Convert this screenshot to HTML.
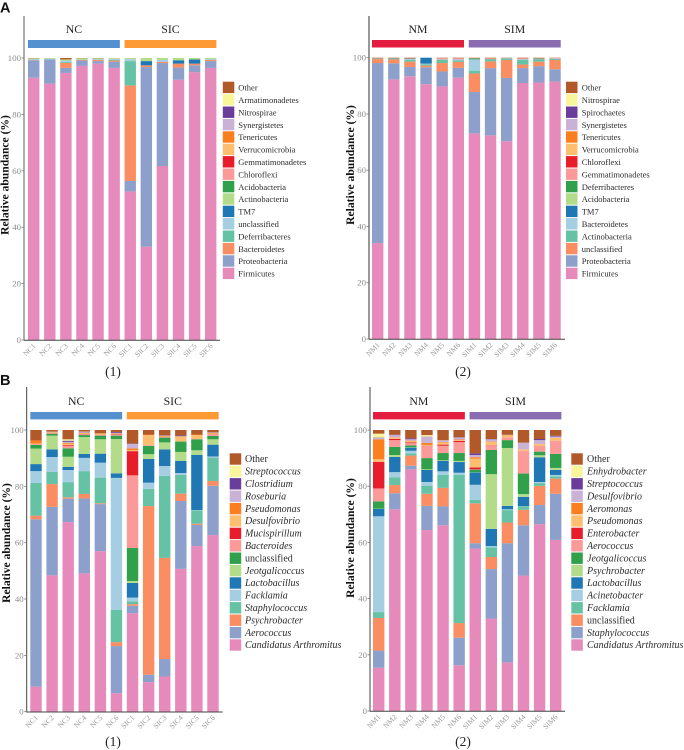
<!DOCTYPE html>
<html lang="en">
<head>
<meta charset="utf-8">
<title>Relative abundance stacked bars</title>
<style>
html,body{margin:0;padding:0;background:#fff;}
body{width:684px;height:750px;overflow:hidden;}
svg{display:block;font-family:"Liberation Serif",serif;}
</style>
</head>
<body>
<svg id="figure" width="684" height="750" viewBox="0 0 684 750" xmlns="http://www.w3.org/2000/svg">
  <text x="0" y="12.5" font-family="'Liberation Sans',sans-serif" font-weight="700" font-size="14.5" fill="#111">A</text>
  <text x="0" y="385" font-family="'Liberation Sans',sans-serif" font-weight="700" font-size="14.5" fill="#111">B</text>
</svg>
<script>
const yTicks = [0, 20, 40, 60, 80, 100];
const yTitle = 'Relative abundance (%)';
const palette = ['#E58ABB','#8DA0CB','#FA8D62','#66C2A5','#A6CEE3','#1F78B4','#B2DC8A','#30A14A','#FB9A99','#E71D2B','#FDBF6F','#FB7F1E','#CAB2D6','#6A3D9A','#F9F59B','#B15928'];

const a1Samples = ['NC1','NC2','NC3','NC4','NC5','NC6','SIC1','SIC2','SIC3','SIC4','SIC5','SIC6'];
const a1Groups = ['NC','SIC'];
const a1Taxa = ['Firmicutes','Proteobacteria','Bacteroidetes','Deferribacteres','unclassified','TM7','Actinobacteria','Acidobacteria','Chloroflexi','Gemmatimonadetes','Verrucomicrobia','Tenericutes','Synergistetes','Nitrospirae','Armatimonadetes','Other'];
const a1NC1 = [93,6.2,.1,.1,.2,0,.3,0,0,0,0,0,0,0,0,.1];
const a1NC2 = [90.9,8.6,0,0,.2,0,.3,0,0,0,0,0,0,0,0,0];
const a1NC3 = [94.7,1.8,1.8,.3,.5,0,.4,0,0,0,0,0,0,0,0,.5];
const a1NC4 = [97.2,1.9,.2,0,.1,0,.5,0,0,0,0,0,0,0,0,.1];
const a1NC5 = [98,.9,.4,0,.3,0,.3,0,0,0,0,0,0,0,0,.1];
const a1NC6 = [96.5,2.2,.4,.2,.4,0,.3,0,0,0,0,0,0,0,0,0];
const a1SIC1 = [52.7,3.7,33.9,8.6,.7,0,.4,0,0,0,0,0,0,0,0,0];
const a1SIC2 = [33.1,63.7,.6,0,0,1.5,1.1,0,0,0,0,0,0,0,0,0];
const a1SIC3 = [61.7,36.5,.4,0,.7,0,.7,0,0,0,0,0,0,0,0,0];
const a1SIC4 = [92.3,4.3,1.4,0,0,1.2,.8,0,0,0,0,0,0,0,0,0];
const a1SIC5 = [95,2.4,.6,0,0,1.5,.5,0,0,0,0,0,0,0,0,0];
const a1SIC6 = [96.5,2.4,.4,.1,.2,0,.4,0,0,0,0,0,0,0,0,0];

const a2Samples = ['NM1','NM2','NM3','NM4','NM5','NM6','SIM1','SIM2','SIM3','SIM4','SIM5','SIM6'];
const a2Groups = ['NM','SIM'];
const a2Taxa = ['Firmicutes','Proteobacteria','unclassified','Actinobacteria','Bacteroidetes','TM7','Acidobacteria','Deferribacteres','Gemmatimonadetes','Chloroflexi','Verrucomicrobia','Tenericutes','Synergistetes','Spirochaetes','Nitrospirae','Other'];
const a2NM1 = [34.1,64,1.4,.2,0,0,0,0,.1,0,0,0,0,0,0,.2];
const a2NM2 = [92.3,5.7,1.4,.4,0,0,0,0,0,0,0,0,0,0,0,.2];
const a2NM3 = [93.4,3.3,1.9,.6,.5,0,0,0,0,0,0,0,0,0,0,.3];
const a2NM4 = [90.6,6,.6,.5,.2,2.1,0,0,0,0,0,0,0,0,0,0];
const a2NM5 = [89.8,5.3,3,1.2,.1,0,0,0,.5,0,0,0,0,0,0,.1];
const a2NM6 = [92.9,3.5,2.1,.5,.4,0,0,0,.4,0,0,0,0,0,0,.2];
const a2SIM1 = [73.1,14.7,6.6,1,4,0,0,.4,.1,0,0,0,0,0,0,.1];
const a2SIM2 = [72.4,23.9,2.4,.8,0,0,0,0,.3,0,0,0,0,0,0,.2];
const a2SIM3 = [70.3,22.5,6.4,.6,0,0,0,0,.1,0,0,0,0,0,0,.1];
const a2SIM4 = [91,5.3,1.3,1.6,.3,0,0,0,.3,0,0,0,0,0,0,.2];
const a2SIM5 = [91.2,5.8,1.6,.6,.2,0,0,.3,.2,0,0,0,0,0,0,.1];
const a2SIM6 = [91.5,4.4,3.3,.4,.1,0,0,0,.2,0,0,0,0,0,0,.1];

const b1Samples = ['NC1','NC2','NC3','NC4','NC5','NC6','SIC1','SIC2','SIC3','SIC4','SIC5','SIC6'];
const b1Groups = ['NC','SIC'];
const b1Taxa = ['Candidatus Arthromitus','Aerococcus','Psychrobacter','Staphylococcus','Facklamia','Lactobacillus','Jeotgalicoccus','unclassified','Bacteroides','Mucispirillum','Desulfovibrio','Pseudomonas','Roseburia','Clostridium','Streptococcus','Other'];
const b1NC1 = [8.9,59.4,1.3,11.6,4.2,2.5,5.5,1.3,.3,0,.2,1.1,0,0,0,3.7];
const b1NC2 = [48.4,24.3,8.1,4.3,5.3,2.7,4.9,.7,.4,0,.3,0,0,.1,0,.5];
const b1NC3 = [67.3,8.3,.5,5.4,4.3,1.1,3.6,3,.8,.3,.5,.3,.4,.4,.5,3.3];
const b1NC4 = [49.1,26.6,1.6,8.1,4.7,1.4,6,.7,.3,.1,.2,.2,.2,.2,.1,.5];
const b1NC5 = [57,16.7,.3,9.1,5.3,3.2,5.1,1.3,.2,.1,.5,0,0,0,0,1.2];
const b1NC6 = [6.6,16.7,1.4,11.4,46.9,1.6,12.2,1.2,.3,.2,.1,.2,.2,.3,0,.7];
const b1SIC1 = [35,2.6,.6,1,1.3,5.2,.7,11.7,25.8,8.6,.4,.6,1.6,.1,0,4.8];
const b1SIC2 = [10.5,2.6,59.9,6.1,2.2,8.4,1.7,3,.2,0,3.6,.2,0,0,0,1.6];
const b1SIC3 = [12.5,6.2,35.9,29.1,3.5,5.9,2.5,1.7,.3,0,.1,.2,.1,.1,0,1.9];
const b1SIC4 = [50.7,24.1,2.6,6.7,.6,4.3,3.2,3.7,.1,0,1.8,0,0,.3,0,1.9];
const b1SIC5 = [58.8,7.5,.4,4.8,.1,19.6,1.6,3.9,.1,0,1.4,.2,0,0,0,1.6];
const b1SIC6 = [62.7,17.5,1.7,8.3,.4,4.2,1.9,1.2,.5,.1,.3,.2,.1,.1,0,.8];

const b2Samples = ['NM1','NM2','NM3','NM4','NM5','NM6','SIM1','SIM2','SIM3','SIM4','SIM5','SIM6'];
const b2Groups = ['NM','SIM'];
const b2Taxa = ['Candidatus Arthromitus','Staphylococcus','unclassified','Facklamia','Acinetobacter','Lactobacillus','Psychrobacter','Jeotgalicoccus','Aerococcus','Enterobacter','Pseudomonas','Aeromonas','Desulfovibrio','Streptococcus','Enhydrobacter','Other'];
const b2NM1 = [15.4,6.1,11.6,2.1,34.1,2.6,.1,2.6,4.6,9.5,.9,7.1,.5,.1,1.4,1.3];
const b2NM2 = [71.8,5.7,2.9,2.8,1.8,5.4,.7,2.9,2.4,.4,.5,.1,.8,.1,0,1.7];
const b2NM3 = [86,1.3,3.6,.8,.9,1.1,.1,.7,.8,.3,.4,.2,.5,.3,0,3];
const b2NM4 = [64.4,8.6,4.3,2.9,1.3,4.3,.2,4,4.3,.1,.3,.7,2.3,0,.5,1.8];
const b2NM5 = [66.1,6.7,6.6,4.6,1.3,3.7,.2,2.6,2.6,.4,.7,.2,.5,.1,.1,3.6];
const b2NM6 = [16.3,9.8,5.2,52.7,.8,3.8,.4,2.8,3.9,.4,.3,.2,.7,.1,0,2.6];
const b2SIM1 = [57.8,1.9,14.2,1.2,5.4,4.4,.1,.9,.1,.7,3.1,.5,.8,.6,0,8.3];
const b2SIM2 = [32.9,17.6,4.3,3.4,.5,6.1,19.5,8.6,1.6,.1,1.2,.1,.8,.1,0,3.2];
const b2SIM3 = [17.3,42.4,7.4,4.4,.3,1.2,20.6,2.8,1,0,.7,.1,.1,0,0,1.7];
const b2SIM4 = [48.2,17.9,5.5,1.2,.1,3.3,1,7.3,8,0,.6,0,2.4,0,0,4.5];
const b2SIM5 = [66.5,6.8,6.8,1,.4,8.8,.7,1.3,2,0,.7,0,1.4,.4,0,3.2];
const b2SIM6 = [60.9,16.4,5.4,.8,.5,1.8,.7,5,4.7,0,1,0,.5,.2,0,2.1];

const NS = 'http://www.w3.org/2000/svg';
const fig = document.getElementById('figure');

function mk(tag, attrs, parent, txt) {
  const el = document.createElementNS(NS, tag);
  for (const k in attrs) el.setAttribute(k, attrs[k]);
  if (txt !== undefined) el.textContent = txt;
  (parent || fig).appendChild(el);
  return el;
}

function drawPanel(p) {
  const g = mk('g', {}, fig);
  
  

  const yScale = v => p.y0 - v * (p.y0 - p.y100) / 100;
  const xScale = i => p.barX + i * p.pitch;
  const barW = p.barW;

  // stacked bars
  p.rows.forEach((row, i) => {
    let cum = 0;
    row.forEach((v, s) => {
      if (v <= 0) return;
      const top = yScale(cum + v);
      const bottom = yScale(cum);
      const seg = mk('rect', {x: xScale(i), y: top, width: barW, height: bottom - top, fill: palette[s]}, g);
      
      
      cum += v;
    });
    const lab = mk('text', {
      x: xScale(i) + barW / 2 + 2.5, y: p.y0 + 6.5, 'text-anchor': 'end', 'font-size': 7.5, fill: '#999',
      transform: 'rotate(-45 ' + (xScale(i) + barW / 2 + 2.5) + ' ' + (p.y0 + 6.5) + ')'
    }, g, p.samples[i]);
    
    
  });

  // y axis
  const yAxis = mk('line', {x1: p.axisX, x2: p.axisX, y1: p.axisTop, y2: p.y0 + 0.5, stroke: p.yAxisColor, 'stroke-width': p.yAxisW}, g);
  
  
  const xAxis = mk('line', {x1: p.axisX, x2: p.axisEnd, y1: p.y0 + 0.3, y2: p.y0 + 0.3, stroke: '#444', 'stroke-width': 1}, g);
  
  

  yTicks.forEach(t => {
    const tick = mk('line', {x1: p.axisX - 2.5, x2: p.axisX, y1: yScale(t), y2: yScale(t), stroke: '#777', 'stroke-width': 0.8}, g);
    
    
    const lab = mk('text', {x: p.axisX - 3, y: yScale(t) + 3, 'text-anchor': 'end', 'font-size': 8.8, fill: '#8c8c8c'}, g, String(t));
    
    
  });

  const title = mk('text', {
    x: p.titleX, y: p.titleY, 'text-anchor': 'middle', 'font-size': 11.6, 'font-weight': 700, fill: '#111',
    transform: 'rotate(-90 ' + p.titleX + ' ' + p.titleY + ')'
  }, g, yTitle);
  
  

  // group bands
  p.groups.forEach((name, k) => {
    const first = k * 6;
    const x1 = xScale(first);
    const x2 = xScale(first + 5) + barW;
    const band = mk('rect', {x: x1, y: p.bandY, width: x2 - x1, height: p.bandH, fill: p.bandColors[k]}, g);
    
    
    const lab = mk('text', {x: (x1 + x2) / 2, y: p.bandY - 7, 'text-anchor': 'middle', 'font-size': 11.8, fill: '#222'}, g, name);
    
    
  });

  // legend
  const legend = mk('g', {}, g);
  
  
  const count = p.taxa.length;
  for (let s = count - 1; s >= 0; s--) {
    const row = count - 1 - s;
    const ly = p.legY + row * 12.4;
    const sw = mk('rect', {x: p.legX, y: ly, width: 11.5, height: 11.4, fill: palette[s]}, legend);
    
    
    const isItalic = p.italic && p.taxa[s] !== 'Other' && p.taxa[s] !== 'unclassified';
    const lt = mk('text', {
      x: p.legTextX, y: ly + 8.9, 'font-size': p.legFont, fill: '#2b2b2b',
      'font-style': isItalic ? 'italic' : 'normal'
    }, legend, p.taxa[s]);
    
    
  }

  const cap = mk('text', {x: p.capX, y: p.capY, 'text-anchor': 'middle', 'font-size': 13.5, fill: '#222'}, g, p.caption);
  
  
}

drawPanel({
  id: 'a1', samples: a1Samples, groups: a1Groups, taxa: a1Taxa,
  rows: [a1NC1, a1NC2, a1NC3, a1NC4, a1NC5, a1NC6, a1SIC1, a1SIC2, a1SIC3, a1SIC4, a1SIC5, a1SIC6],
  y0: 340, y100: 58, barX: 28, pitch: 16.09, barW: 11.4, axisX: 24, axisTop: 16, axisEnd: 220,
  yAxisColor: '#9a9a9a', yAxisW: 1.6, titleX: 8.5, titleY: 175,
  bandY: 40, bandH: 8, bandColors: ['#5591CF', '#FD9A35'],
  legX: 222.8, legY: 81.7, legTextX: 238.3, legFont: 8.5, italic: false,
  capX: 113, capY: 376, caption: '(1)'
});
drawPanel({
  id: 'a2', samples: a2Samples, groups: a2Groups, taxa: a2Taxa,
  rows: [a2NM1, a2NM2, a2NM3, a2NM4, a2NM5, a2NM6, a2SIM1, a2SIM2, a2SIM3, a2SIM4, a2SIM5, a2SIM6],
  y0: 339, y100: 57.7, barX: 372, pitch: 16.12, barW: 11.4, axisX: 369, axisTop: 16, axisEnd: 565,
  yAxisColor: '#555', yAxisW: 1.2, titleX: 354, titleY: 165,
  bandY: 40, bandH: 7.5, bandColors: ['#E41C40', '#8A6DB0'],
  legX: 566, legY: 81.7, legTextX: 581.7, legFont: 8.5, italic: false,
  capX: 463, capY: 376, caption: '(2)'
});
drawPanel({
  id: 'b1', samples: b1Samples, groups: b1Groups, taxa: b1Taxa,
  rows: [b1NC1, b1NC2, b1NC3, b1NC4, b1NC5, b1NC6, b1SIC1, b1SIC2, b1SIC3, b1SIC4, b1SIC5, b1SIC6],
  y0: 711.7, y100: 430, barX: 30.3, pitch: 16.09, barW: 11.4, axisX: 26.7, axisTop: 387, axisEnd: 222.7,
  yAxisColor: '#444', yAxisW: 1, titleX: 10, titleY: 543,
  bandY: 412, bandH: 7.4, bandColors: ['#5591CF', '#FD9A35'],
  legX: 229.7, legY: 453.3, legTextX: 245, legFont: 10, italic: true,
  capX: 113, capY: 746, caption: '(1)'
});
drawPanel({
  id: 'b2', samples: b2Samples, groups: b2Groups, taxa: b2Taxa,
  rows: [b2NM1, b2NM2, b2NM3, b2NM4, b2NM5, b2NM6, b2SIM1, b2SIM2, b2SIM3, b2SIM4, b2SIM5, b2SIM6],
  y0: 711, y100: 430, barX: 373, pitch: 16.09, barW: 11.4, axisX: 370, axisTop: 387, axisEnd: 565,
  yAxisColor: '#444', yAxisW: 1, titleX: 354, titleY: 538,
  bandY: 412, bandH: 7.4, bandColors: ['#E41C40', '#8A6DB0'],
  legX: 571.3, legY: 453.3, legTextX: 587, legFont: 10, italic: true,
  capX: 463, capY: 746, caption: '(2)'
});
</script>
</body>
</html>
